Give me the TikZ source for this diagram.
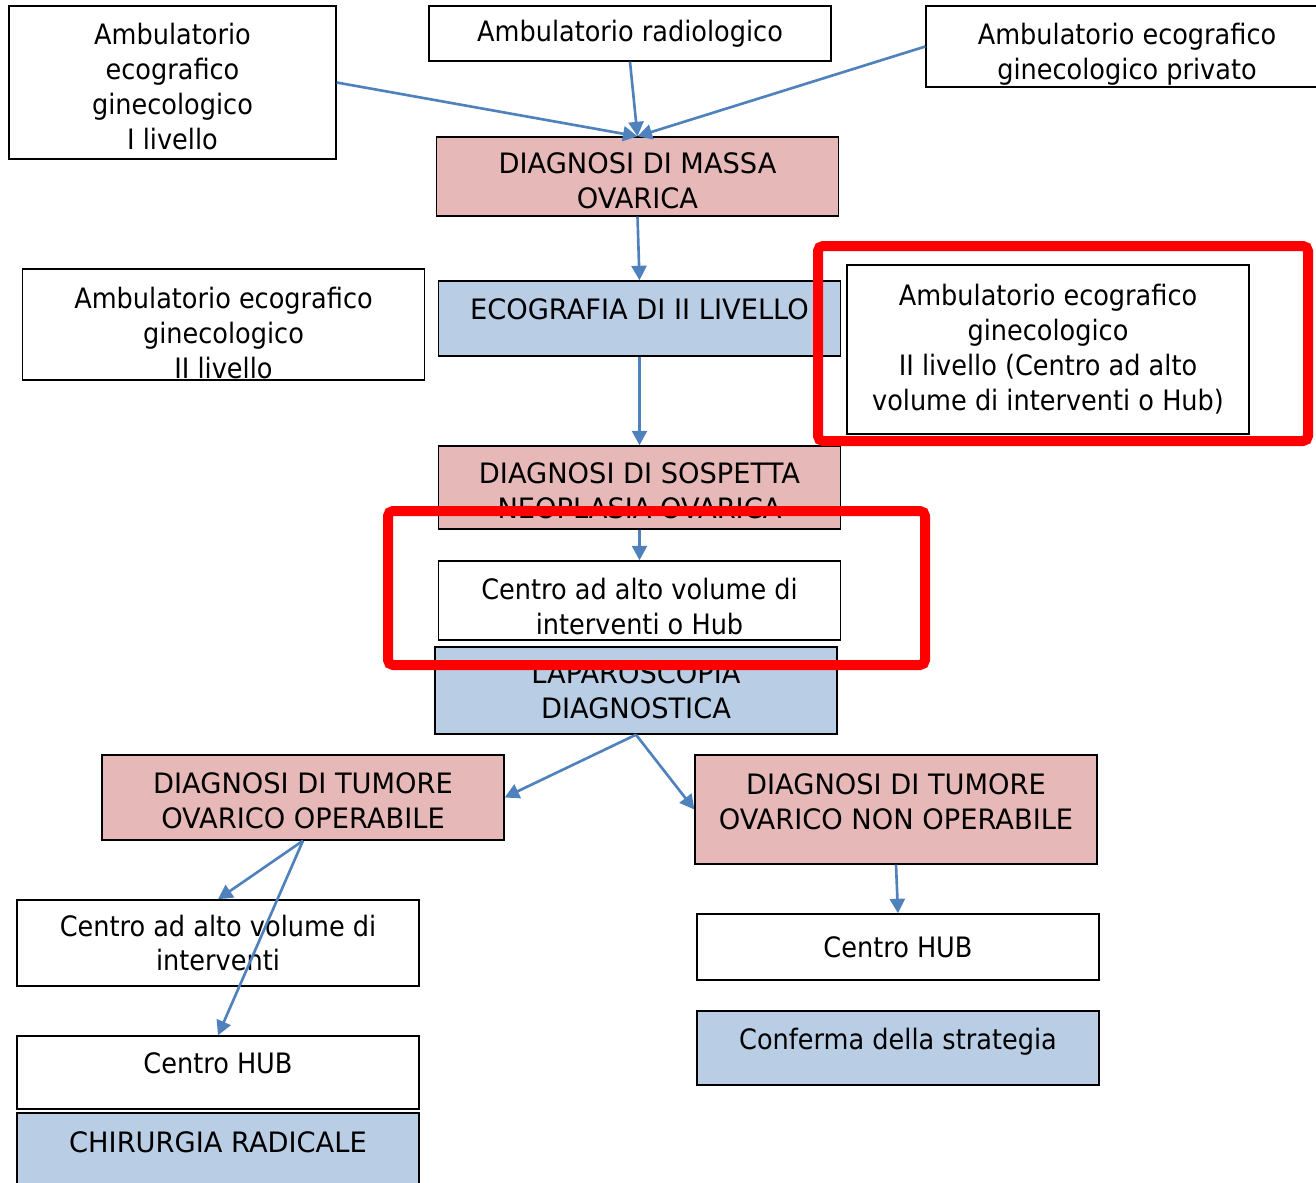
\documentclass[tikz,border=0pt]{standalone}
\usepackage{fontspec}
\setmainfont{DejaVu Sans}[FakeStretch=0.91]
\newfontfamily\capsfont{DejaVu Sans}[FakeStretch=0.97]
\usetikzlibrary{arrows.meta}
\definecolor{pinkfill}{HTML}{E6B9B8}
\definecolor{bluefill}{HTML}{B9CDE5}
\definecolor{arrowblue}{HTML}{4F81BD}

\begin{document}
\begin{tikzpicture}[x=0.02cm, y=-0.02cm, >={Triangle[length=0.29cm,width=0.3cm]},
    box/.style={draw, line width=0.8pt, fill=white, minimum width=8.04cm, inner sep=0pt,
      align=center, font=\fontsize{16pt}{19.9pt}\selectfont},
    pinkbox/.style={box, fill=pinkfill, font=\fontsize{16pt}{19.9pt}\selectfont\capsfont},
    bluebox/.style={box, fill=bluefill, font=\fontsize{16pt}{19.9pt}\selectfont\capsfont},
    uptext/.style={text depth=11pt},
    flow/.style={->, draw=arrowblue, line width=1.5pt},
    redframe/.style={draw=red, line width=0.2cm, rounded corners=0.1cm}]
  \clip (0,0) rectangle (1316,1183);

  % Nodes
  \node[box, text height=76.5pt, minimum width=6.54cm, minimum height=3.06cm] (amb1) at (172.5,82.5)
    {Ambulatorio\\ecografico\\ginecologico\\ I livello};
  \node[box, minimum height=1.1cm] (ambradio) at (630,33.5) {Ambulatorio radiologico};
  \node[box, text height=41pt, minimum height=1.62cm] (ambpriv) at (1127,46.5)
    {Ambulatorio ecografico\\ginecologico privato};
  \node[pinkbox, text height=37pt, minimum height=1.58cm] (massa) at (637.5,176.5)
    {DIAGNOSI DI MASSA\\OVARICA};
  \node[box, text height=62pt, minimum height=2.22cm] (amb2) at (223.5,324.5)
    {Ambulatorio ecografico\\ginecologico\\II livello};
  \node[bluebox, uptext, minimum height=1.5cm] (eco2) at (639.5,318.5)
    {ECOGRAFIA DI II LIVELLO};
  \node[box, minimum height=3.38cm] (ambhub) at (1048,349.5)
    {Ambulatorio ecografico\\ginecologico\\II livello (Centro ad alto\\volume di interventi o Hub)};
  \node[pinkbox, text height=36pt, minimum height=1.66cm] (sospetta) at (639.5,487.5)
    {DIAGNOSI DI SOSPETTA\\NEOPLASIA OVARICA};
  \node[box, text height=39pt, minimum height=1.58cm] (centro1) at (639.5,600.5)
    {Centro ad alto volume di\\interventi o Hub};
  \node[bluebox, minimum height=1.74cm] (laparo) at (636,690.5)
    {LAPAROSCOPIA\\DIAGNOSTICA};
  \node[pinkbox, text height=35.5pt, minimum height=1.7cm] (operabile) at (303,797.5)
    {DIAGNOSI DI TUMORE\\OVARICO OPERABILE};
  \node[pinkbox, text depth=9pt, minimum height=2.18cm] (nonoperabile) at (896,809.5)
    {DIAGNOSI DI TUMORE\\OVARICO NON OPERABILE};
  \node[box, minimum height=1.72cm] (centro2) at (218,943)
    {Centro ad alto volume di\\interventi};
  \node[box, uptext, minimum height=1.46cm] (hub1) at (218,1072.5) {Centro HUB};
  \node[bluebox, uptext, minimum height=1.54cm] (chirurgia) at (218,1151.5) {CHIRURGIA RADICALE};
  \node[box, minimum height=1.32cm] (hub2) at (898,947) {Centro HUB};
  \node[bluebox, uptext, minimum height=1.48cm,
    font=\fontsize{16pt}{19.9pt}\selectfont] (conferma) at (898,1048) {Conferma della strategia};

  % Arrows
  \draw[flow] (amb1.east) -- (massa.north);
  \draw[flow] (ambradio.south) -- (massa.north);
  \draw[flow] (ambpriv.west) -- (massa.north);
  \draw[flow] (massa.south) -- (eco2.north);
  \draw[flow] (eco2.south) -- (sospetta.north);
  \draw[flow] (sospetta.south) -- (centro1.north);
  \draw[flow] (laparo.south) -- (operabile.east);
  \draw[flow] (laparo.south) -- (nonoperabile.west);
  \draw[flow] (operabile.south) -- (centro2.north);
  \draw[flow] (operabile.south) -- (hub1.north);
  \draw[flow] (nonoperabile.south) -- (hub2.north);

  % Highlights
  \draw[redframe] (818,246) rectangle (1308,441);
  \draw[redframe] (388,511) rectangle (925,665);
\end{tikzpicture}
\end{document}
